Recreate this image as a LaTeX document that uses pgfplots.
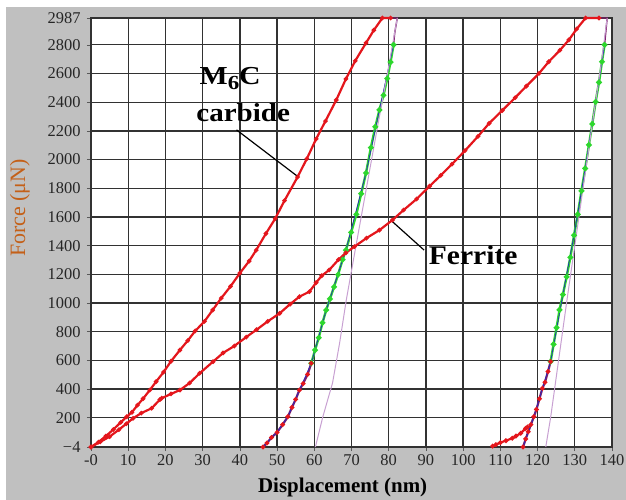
\documentclass[border=0pt]{standalone}
\usepackage{fontspec}
\setmainfont{Liberation Serif}
\usepackage{graphicx}
\usepackage{pgfplots}
\pgfplotsset{compat=1.18}
\definecolor{bggray}{RGB}{192,192,192}
\definecolor{gridc}{RGB}{50,50,50}
\definecolor{redc}{RGB}{228,22,28}
\definecolor{greenc}{RGB}{45,215,45}
\definecolor{purplec}{RGB}{125,30,105}
\definecolor{bluec}{RGB}{40,40,190}
\definecolor{pinkc}{RGB}{200,160,210}
\definecolor{forcec}{RGB}{196,96,24}
\begin{document}
\begin{tikzpicture}
\path[use as bounding box] (0,0) rectangle (626bp,500bp);
\fill[bggray] (6bp,0) rectangle (626bp,493bp);
\begin{axis}[
 at={(91bp,53bp)}, anchor=south west,
 scale only axis, width=521bp, height=429bp,
 xmin=0, xmax=140, ymin=-4, ymax=2987,
 clip=false,
 axis background/.style={fill=white},
 xtick={0,10,...,140},
 xticklabels={-0,10,20,30,40,50,60,70,80,90,100,110,120,130,140},
 ytick={-4,200,400,600,800,1000,1200,1400,1600,1800,2000,2200,2400,2600,2800,2987},
 yticklabels={−4,200,400,600,800,1000,1200,1400,1600,1800,2000,2200,2400,2600,2800,2987},
 grid=major, major grid style={gridc, line width=1.3pt},
 axis line style={gridc, line width=1.3pt},
 tick align=outside, major tick length=4bp,
 tick style={gray!70!black, line width=0.6pt},
 tick pos=left,
 ticklabel style={font=\fontsize{16.5}{16.5}\selectfont, text=black!85},
 yticklabel style={xshift=-3bp},
 xlabel={\textbf{Displacement (nm)}},
 xlabel style={font=\fontsize{21}{21}\selectfont, at={(axis description cs:0.483,-0.1072)}, anchor=base},
 ylabel={Force (μN)},
 ylabel style={font=\fontsize{22}{22}\selectfont, text=forcec, at={(axis description cs:-0.1363,0.557)}, anchor=center},
]
% M6C carbide loading
\addplot[redc, line width=2.2pt, mark=*, mark size=1pt] coordinates {
(0,-4)(2,30)(4,72)(6,118)(8,168)(9.6,207)(11,238)(12.5,288)(14,333)(15.8,393)
(17.5,452)(19.5,518)(21.5,594)(23.9,672)(26,738)(28,805)(30.5,872)(32.7,951)
(35,1034)(37.5,1116)(40,1208)(42.5,1292)(44.4,1369)(47,1484)(49.5,1588)(52,1714)
(55.5,1878)(58,2006)(60.5,2144)(63,2268)(65.9,2415)(68.5,2562)(71,2688)(73.9,2813)
(76,2902)(78.3,2987)(80.5,2987)};
% carbide unloading (top)
\addplot[purplec, line width=1.4pt] coordinates {(80.5,2987)(82.3,2987)(81.6,2880)(81.3,2800)};
% carbide unloading green
\addplot[greenc, line width=2.4pt, mark=*, mark size=1.5pt] coordinates {
(81.3,2800)(80.5,2680)(79.6,2565)(78.6,2448)(77.5,2346)(76.4,2228)(75.2,2083)
(73.9,1906)(72.6,1762)(71.3,1618)(69.9,1492)(68.5,1369)(67.6,1302)(66.4,1198)
(65.3,1112)(64.2,1028)(63.2,951)(62.2,862)(61.2,758)(60.2,672)(59.2,580)};
% carbide unloading lower
\addplot[purplec, line width=2.2pt, mark=*, mark size=1.1pt, mark options={redc}] coordinates {
(59.2,580)(58.2,502)(57,438)(56,393)(55,328)(54,272)(52.9,207)(51.5,152)(50,98)
(48.5,62)(47.3,24)(46.2,-4)};
% carbide blue fit
\addplot[bluec, line width=0.7pt] coordinates {
(46.2,-4)(48.5,60)(50,100)(52.9,207)(56,393)(59.2,580)(63.2,951)(68.5,1369)
(73.9,1906)(77.5,2346)(81.3,2800)};
% carbide pink fit
\addplot[pinkc, line width=1pt] coordinates {
(60.3,-4)(62.3,207)(64.9,442)(66.8,720)(68.6,1021)(71,1370)(74,1800)(77,2230)
(80,2650)(82.3,2987)};
% Ferrite loading
\addplot[redc, line width=2.2pt, mark=*, mark size=1pt] coordinates {
(0,-4)(2.5,32)(5,68)(7.5,117)(9.5,158)(11.3,196)(13.5,232)(16.3,266)(18.5,326)
(19,336)(21.5,366)(23.9,393)(26.5,442)(29.2,510)(32.8,591)(35.5,652)(38.5,700)
(41.7,762)(44.5,814)(47.5,872)(50.7,928)(53.5,992)(56,1044)(58.7,1079)(60.5,1142)
(62,1190)(64,1230)(66.5,1302)(68.5,1350)(70.8,1393)(74,1452)(77.5,1508)(81,1578)
(84,1648)(87.5,1725)(91,1815)(94,1890)(97,1968)(100.5,2062)(104,2162)(107,2253)
(110.5,2342)(114,2432)(117,2512)(120.4,2601)(123,2682)(126,2762)(128.4,2834)
(130.5,2910)(132.9,2987)(136.5,2987)};
% ferrite unloading top
\addplot[purplec, line width=1.4pt] coordinates {(136.5,2987)(138.7,2987)(138.3,2880)(138,2800)};
% ferrite unloading green
\addplot[greenc, line width=2.4pt, mark=*, mark size=1.5pt] coordinates {
(138,2800)(137.3,2682)(136.5,2538)(135.6,2402)(134.7,2248)(133.8,2102)(132.8,1938)
(131.8,1782)(130.8,1618)(129.8,1472)(128.8,1318)(127.8,1182)(126.8,1058)(125.9,952)
(125.1,828)(124.3,712)(123.5,591)};
% ferrite lower
\addplot[purplec, line width=2.2pt, mark=*, mark size=1.1pt, mark options={redc}] coordinates {
(123.5,591)(122.8,522)(122,448)(121.3,405)(120.5,332)(119.7,258)(119,207)
(118.2,152)(117.5,102)(116.8,52)(116.1,-4)};
% ferrite red tail
\addplot[redc, line width=2.2pt, mark=*, mark size=1.1pt] coordinates {
(117.3,135)(116.8,126)(115.5,92)(114.2,72)(113.2,57)(111.5,40)(110,27)(108.8,12)(107.9,2)};
% ferrite blue fit
\addplot[bluec, line width=0.7pt] coordinates {
(116.1,-4)(117.5,100)(119,207)(121.3,405)(123.5,591)(126.8,1058)(129.8,1472)
(132.8,1938)(135.6,2402)(138,2800)};
% ferrite pink fit
\addplot[pinkc, line width=1pt] coordinates {
(122.2,-4)(123.5,200)(125,480)(126.5,760)(127.9,1021)(130,1400)(132.5,1850)
(135,2300)(137,2650)(138.7,2987)};
% annotations
\node[font=\bfseries\fontsize{26}{26}\selectfont, anchor=base, inner sep=0pt] at (axis cs:37.4,2520) {\scalebox{1.15}[1]{M\raisebox{-0.35ex}{\fontsize{20}{20}\selectfont 6}C}};
\node[font=\bfseries\fontsize{26}{26}\selectfont, anchor=base, inner sep=0pt] at (axis cs:40.9,2262) {\scalebox{1.12}[1]{carbide}};
\draw[black, line width=1.2pt] (axis cs:39.1,2207) -- (axis cs:55.6,1881);
\node[font=\bfseries\fontsize{27}{27}\selectfont, anchor=base, inner sep=0pt] at (axis cs:102.7,1265) {\scalebox{1.1}[1]{Ferrite}};
\draw[black, line width=1.2pt] (axis cs:81,1567) -- (axis cs:89.5,1369);
\end{axis}
\end{tikzpicture}
\end{document}
